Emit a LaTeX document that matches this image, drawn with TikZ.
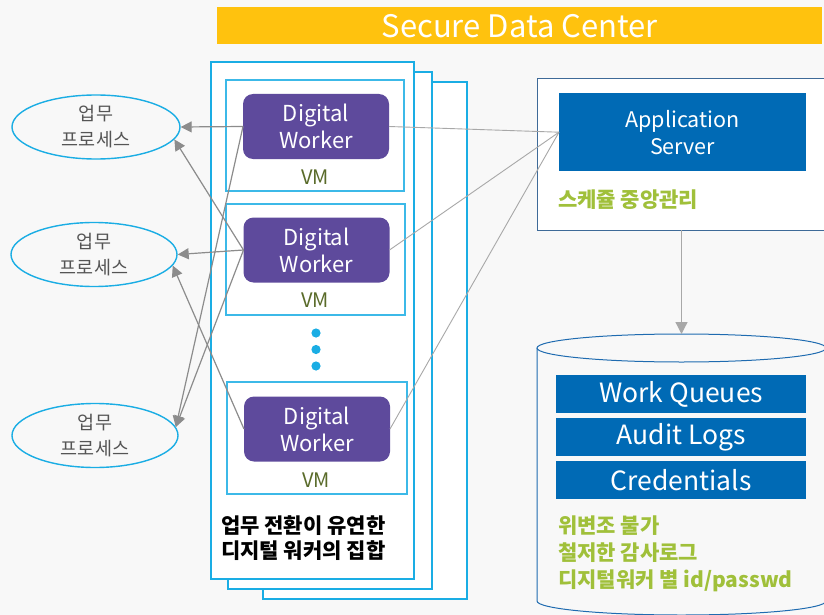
\documentclass[tikz,border=0pt]{standalone}
\usepackage{fontspec}
\setmainfont{Noto Sans CJK KR}
\usetikzlibrary{arrows.meta,shapes.geometric}
\definecolor{bgc}{HTML}{F8F8F8}
\definecolor{ttl}{HTML}{FFC20E}
\definecolor{cyanb}{HTML}{1AADE4}
\definecolor{purp}{HTML}{5E4A9C}
\definecolor{blu}{HTML}{006AB5}
\definecolor{olive}{HTML}{5A6B2A}
\definecolor{grn}{HTML}{A0C03A}
\definecolor{lgray}{HTML}{8C8C8C}
\definecolor{rgray}{HTML}{A8A8A8}
\definecolor{etext}{HTML}{555555}
\definecolor{appb}{HTML}{3E6A98}
\definecolor{cylb}{HTML}{1F6BB0}
\begin{document}
\begin{tikzpicture}[x=1pt,y=-1pt,
  panel/.style={draw=cyanb,fill=white,line width=1.6pt,inner sep=0pt,outer sep=0pt,anchor=north west},
  vmbox/.style={draw=cyanb!85,fill=white,line width=1.2pt,inner sep=0pt,outer sep=0pt,anchor=north west},
  dwbox/.style={fill=purp,rounded corners=10pt,minimum width=146,minimum height=65,inner sep=0pt,outer sep=0pt,text=white,align=center,font=\fontsize{22}{27}\selectfont},
  vmlabel/.style={text=olive,font=\fontsize{20}{24}\selectfont,inner sep=0pt},
  proc/.style={ellipse,draw=cyanb,line width=1.4pt,minimum width=166,minimum height=64,inner sep=0pt,align=center,text=etext,font=\fontsize{18.5}{26}\selectfont},
  larrow/.style={draw=lgray,line width=1.2pt,-{Triangle[length=11pt,width=11pt]}},
  rline/.style={draw=rgray,line width=0.9pt},
  bluebar/.style={fill=blu,minimum width=250,minimum height=38,inner sep=0pt,text=white,font=\fontsize{26.5}{30}\selectfont,anchor=north west},
  greentext/.style={text=grn,font=\bfseries\fontsize{21}{27}\selectfont,align=left,inner sep=0pt}
]
\useasboundingbox (0,0) rectangle (824,615);
\fill[bgc] (0,0) rectangle (824,615);

% title
\node[fill=ttl,minimum width=605,minimum height=37,inner sep=0pt,anchor=north west,text=white,font=\fontsize{31}{34}\selectfont] (title) at (217,7) {Secure Data Center};

% stacked panels
\node[panel,minimum width=204,minimum height=517] (p3) at (263,82) {};
\node[panel,minimum width=204,minimum height=517] (p2) at (228,72) {};
\node[panel,minimum width=203,minimum height=517] (p1) at (211,62) {};

% VM boxes
\node[vmbox,minimum width=178,minimum height=111] (vm1) at (226,80) {};
\node[vmbox,minimum width=179,minimum height=111] (vm2) at (226,204) {};
\node[vmbox,minimum width=180,minimum height=112] (vm3) at (227,382) {};

\node[dwbox] (dw1) at (316,126.5) {Digital\\Worker};
\node[dwbox] (dw2) at (316.5,250) {Digital\\Worker};
\node[dwbox] (dw3) at (317,429) {Digital\\Worker};

\node[vmlabel] (vml1) at (315,177) {VM};
\node[vmlabel] (vml2) at (315,300) {VM};
\node[vmlabel] (vml3) at (316,480) {VM};

% dots
\fill[cyanb] (316,333) circle (4.6pt) (316,349.5) circle (4.6pt) (316,366) circle (4.6pt);

% panel caption
\node[anchor=north west,align=left,inner sep=0pt,font=\bfseries\fontsize{21}{25}\selectfont,text=black] (cap) at (221,515) {업무 전환이 유연한\\디지털 워커의 집합};

% process ellipses
\node[proc,minimum width=168] (e1) at (96,127) {업무\\프로세스};
\node[proc] (e2) at (94,254.5) {업무\\프로세스};
\node[proc] (e3) at (95,435.5) {업무\\프로세스};

% application server
\node[draw=appb,fill=white,line width=1pt,minimum width=293,minimum height=151,inner sep=0pt,outer sep=0pt,anchor=north west] (appo) at (537,79) {};
\node[fill=blu,minimum width=247,minimum height=78,inner sep=0pt,anchor=north west,text=white,align=center,font=\fontsize{21.5}{27}\selectfont] (app) at (559,93) {Application\\Server};
\node[greentext,anchor=west] (sched) at (558,200) {스케쥴 중앙관리};

% database cylinder
\node[minimum width=289,minimum height=281,inner sep=0pt,outer sep=0pt,anchor=north west] (db) at (537,334) {};
\filldraw[fill=bgc,draw=cylb,line width=1pt] (537,348) -- (537,601) arc[start angle=180,end angle=360,x radius=144.5pt,y radius=14pt] -- (826,348);
\filldraw[fill=bgc,draw=cylb,line width=1pt] (681.5,348) ellipse [x radius=144.5pt,y radius=14pt];

\node[bluebar] (wq) at (556,375) {Work Queues};
\node[bluebar] (al) at (556,418) {Audit Logs};
\node[bluebar] (cr) at (556,461) {Credentials};
\node[greentext,anchor=north west] (dbtxt) at (558,516) {위변조 불가\\철저한 감사로그\\디지털워커 별 id/passwd};

% left connectors
\draw[larrow] (dw1.west) -- (e1.east);
\draw[larrow] (dw1.west) -- (e3.6);
\draw[larrow] (dw2.west) -- (e1.-9);
\draw[larrow] (dw2.west) -- (e2.east);
\draw[larrow] (dw2.west) -- (e3.6);
\draw[larrow] (dw3.west) -- (e2.-8);

% right connectors
\draw[rline] (dw1.east) -- (app.west);
\draw[rline] (dw2.east) -- (app.west);
\draw[rline] (dw3.east) -- (app.west);

% server to database
\draw[draw=rgray,line width=1.3pt,-{Triangle[length=12pt,width=12pt]}] (appo.south -| db.north) -- (db.north);
\end{tikzpicture}
\end{document}
